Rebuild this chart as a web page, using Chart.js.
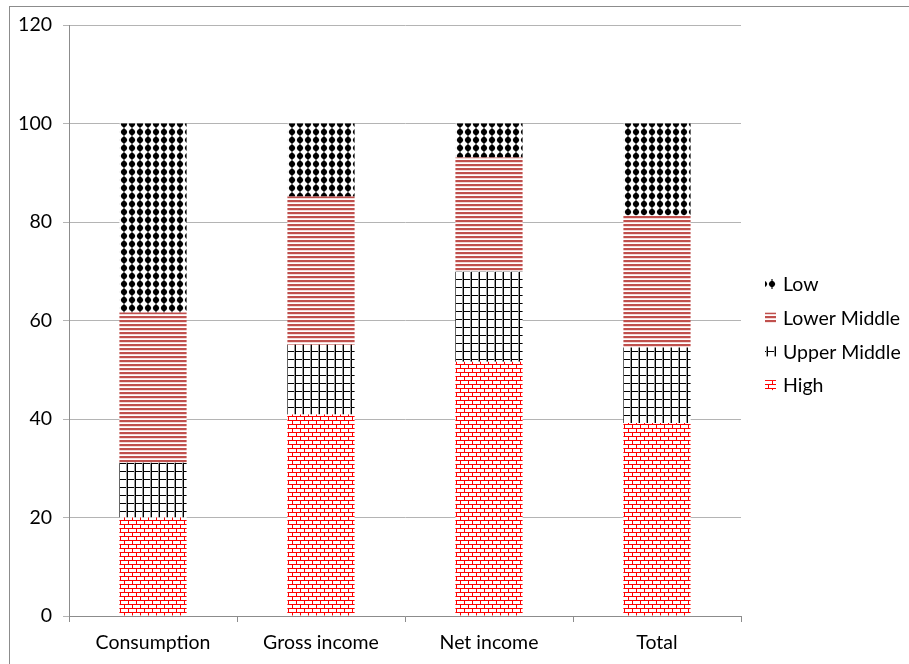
<!DOCTYPE html>
<html><head><meta charset="utf-8">
<script src="https://cdn.jsdelivr.net/npm/chart.js@4.4.1/dist/chart.umd.min.js"></script>
<style>
html,body{margin:0;padding:0;background:#fff;overflow:hidden;}
#wrap{position:absolute;left:0;top:0;width:909px;height:664px;}
#frame{position:absolute;left:9px;top:6px;width:940px;height:700px;border:1px solid #8c8c8c;pointer-events:none;}
</style></head>
<body>
<div id="wrap"><canvas id="c" width="909" height="664"></canvas></div>
<div id="frame"></div>
<script>
const categories = ["Consumption", "Gross income", "Net income", "Total"];
const seriesNames = ["High", "Upper Middle", "Lower Middle", "Low"];
const highVals = [20.0, 40.9, 51.6, 39.2];
const upperMiddleVals = [11.1, 14.2, 18.3, 15.3];
const lowerMiddleVals = [30.5, 30.1, 23.2, 26.8];
const lowVals = [38.4, 14.8, 6.9, 18.7];
const yTicks = [0, 20, 40, 60, 80, 100, 120];

const FONT = "Lato, 'Open Sans', sans-serif";
const FS = 19.5;

function makeTile(w, h, draw) {
  const t = document.createElement('canvas');
  t.width = w; t.height = h;
  const g = t.getContext('2d');
  g.fillStyle = '#fff'; g.fillRect(0, 0, w, h);
  draw(g);
  return document.getElementById('c').getContext('2d').createPattern(t, 'repeat');
}
const patLow = makeTile(8, 8, g => {
  g.fillStyle = '#000';
  g.beginPath();
  g.moveTo(4, 0.6); g.lineTo(7.4, 4); g.lineTo(4, 7.4); g.lineTo(0.6, 4); g.closePath();
  g.fill();
  g.beginPath(); g.arc(4, 4, 2.9, 0, Math.PI * 2); g.fill();
  g.fillRect(3.5, 0, 1, 8);
});
const patLowerMid = makeTile(4, 4, g => {
  g.fillStyle = '#c0504d'; g.fillRect(0, 0, 4, 2);
  g.fillStyle = '#e8b4b3'; g.fillRect(0, 2, 4, 0.5);
});
const patUpperMid = makeTile(8, 8, g => {
  g.fillStyle = '#000';
  g.fillRect(0, 7, 8, 1.2);
  g.fillRect(7, 0, 1.2, 8);
  g.fillStyle = '#999'; g.fillRect(6, 0, 1, 8);
});
const patHigh = makeTile(8, 8, g => {
  g.fillStyle = '#ff0000';
  g.fillRect(0, 0, 8, 1);
  g.fillRect(0, 4, 8, 1);
  g.fillRect(0, 0, 1, 4);
  g.fillRect(4, 4, 1, 4);
});
const pats = [patHigh, patUpperMid, patLowerMid, patLow];
const vals = [highVals, upperMiddleVals, lowerMiddleVals, lowVals];

const legendPlugin = {
  id: 'customLegend',
  afterDraw(chart) {
    const ctx = chart.ctx;
    ctx.save();
    const order = [3, 2, 1, 0];
    const x0 = 765, y0 = 284, step = 33.7;
    order.forEach((di, i) => {
      const ds = chart.data.datasets[di];
      const y = y0 + i * step;
      ctx.fillStyle = ds.backgroundColor;
      ctx.fillRect(x0, y - 5, 11, 10);
      ctx.fillStyle = '#000';
      ctx.font = FS + "px " + FONT;
      ctx.textBaseline = 'middle';
      ctx.textAlign = 'left';
      ctx.fillText(ds.label, x0 + 18, y + 1);
    });
    ctx.restore();
  }
};

new Chart(document.getElementById('c'), {
  type: 'bar',
  data: {
    labels: categories,
    datasets: seriesNames.map((n, i) => ({
      label: n,
      data: vals[i],
      backgroundColor: pats[i],
      borderWidth: 0,
      barPercentage: 0.4,
      categoryPercentage: 1.0
    }))
  },
  options: {
    responsive: false,
    animation: false,
    devicePixelRatio: 1,
    layout: { padding: { left: 0, right: 168, top: 25, bottom: 0 } },
    plugins: { legend: { display: false }, tooltip: { enabled: false } },
    scales: {
      x: {
        stacked: true,
        offset: true,
        grid: { display: true, drawOnChartArea: false, drawTicks: true, tickLength: 6, color: '#8c8c8c', offset: true },
        border: { display: true, color: '#8c8c8c', width: 1 },
        ticks: { color: '#000', font: { family: FONT, size: FS }, padding: 9, maxRotation: 0 },
        afterFit(s) { s.height = 48; }
      },
      y: {
        stacked: true,
        min: 0, max: 120,
        afterBuildTicks(s) { s.ticks = yTicks.map(v => ({ value: v })); },
        grid: { color: '#b4b4b4', tickLength: 6, drawTicks: true },
        border: { display: true, color: '#8c8c8c', width: 1 },
        ticks: { color: '#000', font: { family: FONT, size: FS }, padding: 11 },
        afterFit(s) { s.width = 69; }
      }
    }
  },
  plugins: [legendPlugin]
});
</script>
</body></html>
